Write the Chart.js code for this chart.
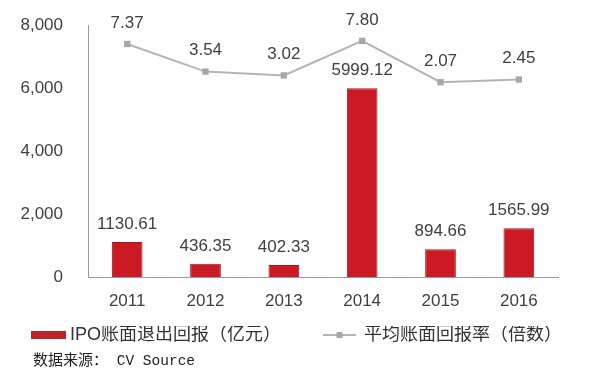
<!DOCTYPE html>
<html><head><meta charset="utf-8">
<script src="https://cdn.jsdelivr.net/npm/chart.js@4/dist/chart.umd.min.js"></script>
<style>
html,body{margin:0;padding:0;background:#fff;}
#wrap{position:relative;width:601px;height:374px;}
#source{position:absolute;left:33px;top:350px;font-size:15px;color:#222;line-height:18px;white-space:pre;}
</style></head><body>
<div id="wrap"><canvas id="c" width="601" height="374"></canvas>
<div id="source"><span style="font-family:'Noto Sans CJK SC'">数据来源：</span><span style="font-family:'Liberation Mono';font-size:14.5px"> CV Source</span></div></div>
<script>
const years = ['2011', '2012', '2013', '2014', '2015', '2016'];
const ipoReturns = [1130.61, 436.35, 402.33, 5999.12, 894.66, 1565.99];
const avgMultiple = [7.37, 3.54, 3.02, 7.80, 2.07, 2.45];
const yTicks = [0, 2000, 4000, 6000, 8000];
const seriesNames = ['IPO账面退出回报（亿元）', '平均账面回报率（倍数）'];

const FONT = '"Liberation Sans", "Noto Sans CJK SC", sans-serif';
const LEG_PAD = 0;
const LEG_BW = 74 - LEG_PAD;

function swatch(vx, vw, h, draw) {
  const c = LEG_BW / 2;
  const half = Math.ceil(Math.max(Math.abs(vx - c), Math.abs(vx + vw - c)));
  const cv = document.createElement('canvas');
  cv.width = half * 2; cv.height = h;
  const ctx = cv.getContext('2d');
  draw(ctx, vx - c + half, vw, h);
  return cv;
}
const barSwatch = swatch(LEG_BW + 9 - 4 - 35, 35, 8, (ctx, x0, w, h) => {
  ctx.fillStyle = '#c0242b';
  ctx.fillRect(x0, 0, w, h);
});
const lineSwatch = swatch(LEG_BW + 9 - 8 - 33, 33, 8, (ctx, x0, w, h) => {
  ctx.strokeStyle = '#b4b4b4';
  ctx.lineWidth = 2;
  ctx.beginPath(); ctx.moveTo(x0, h / 2); ctx.lineTo(x0 + w, h / 2); ctx.stroke();
  ctx.fillStyle = '#a8a8a8';
  ctx.fillRect(x0 + w / 2 - 3, h / 2 - 3, 6, 6);
});

const valueLabels = {
  id: 'valueLabels',
  afterDatasetsDraw(chart) {
    const ctx = chart.ctx;
    ctx.save();
    ctx.font = '17px ' + FONT;
    ctx.fillStyle = '#404040';
    ctx.textAlign = 'center';
    ctx.textBaseline = 'middle';
    chart.data.datasets.forEach((ds, di) => {
      const meta = chart.getDatasetMeta(di);
      const off = ds.type === 'line' ? 21 : 18;
      meta.data.forEach((el, i) => {
        ctx.fillText(ds.data[i].toFixed(2), el.x, el.y - off);
      });
    });
    ctx.restore();
  }
};

new Chart(document.getElementById('c'), {
  data: {
    labels: years,
    datasets: [
      {
        type: 'bar', label: seriesNames[0], data: ipoReturns, yAxisID: 'y',
        backgroundColor: '#cc1a24', borderColor: '#a3151c', borderWidth: 1,
        categoryPercentage: 0.8, barPercentage: 0.49
      },
      {
        type: 'line', label: seriesNames[1], data: avgMultiple, yAxisID: 'y2',
        borderColor: '#b4b4b4', borderWidth: 2, tension: 0,
        pointStyle: 'rect', pointRadius: 4.5, pointBackgroundColor: '#a8a8a8',
        pointBorderWidth: 0, clip: false
      }
    ]
  },
  options: {
    responsive: false, animation: false, devicePixelRatio: 1,
    layout: { padding: { left: -13, right: 0, top: 25, bottom: 20 } },
    scales: {
      x: {
        grid: { display: false, drawTicks: false },
        border: { display: true, color: '#9a9a9a', width: 1 },
        ticks: { font: { size: 17, family: FONT }, color: '#404040', padding: 14 }
      },
      y: {
        position: 'left', min: 0, max: 8000,
        afterBuildTicks: s => { s.ticks = yTicks.map(v => ({ value: v })); },
        grid: { display: true, drawOnChartArea: false, drawTicks: true, tickLength: 22, color: 'rgba(0,0,0,0)' },
        border: { display: true, color: '#9a9a9a', width: 1 },
        ticks: { font: { size: 17, family: FONT }, color: '#404040', padding: 3,
          callback: v => v.toLocaleString('en-US') },
        afterFit: s => { s.width = 101; }
      },
      y2: {
        position: 'right', min: -25, max: 10,
        grid: { display: false, drawTicks: false },
        border: { display: false },
        ticks: { display: false },
        afterFit: s => { s.width = 43; }
      }
    },
    plugins: {
      tooltip: { enabled: false },
      legend: {
        position: 'bottom', align: 'start',
        labels: {
          usePointStyle: true, pointStyleWidth: LEG_BW, padding: LEG_PAD,
          font: { size: 18, family: FONT }, color: '#333',
          generateLabels(chart) {
            const items = Chart.defaults.plugins.legend.labels.generateLabels(chart);
            items[0].pointStyle = barSwatch;
            items[1].pointStyle = lineSwatch;
            return items;
          }
        }
      }
    }
  },
  plugins: [valueLabels]
});
</script>
</body></html>
